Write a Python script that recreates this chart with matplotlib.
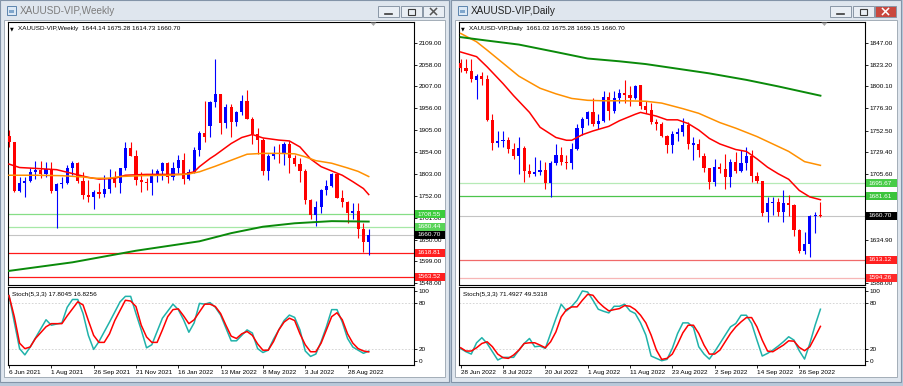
import numpy as np
import matplotlib
matplotlib.use("Agg")
import matplotlib.pyplot as plt
from matplotlib.patches import Rectangle, Polygon

W, H = 904, 386
FONT = ['Liberation Sans', 'DejaVu Sans']
plt.rcParams['font.family'] = FONT

# ---------------- weekly chart (left window) ----------------
w_open = [1892, 1877, 1764, 1781, 1787, 1808, 1813, 1802, 1814, 1763,
          1780, 1783, 1818, 1828, 1787, 1754, 1750, 1762, 1757, 1767,
          1793, 1783, 1818, 1864, 1846, 1789, 1784, 1783, 1798, 1810,
          1829, 1797, 1817, 1835, 1791, 1808, 1859, 1898, 1915, 1970,
          1989, 1921, 1958, 1925, 1947, 1974, 1932, 1896, 1883, 1811,
          1846, 1853, 1851, 1872, 1840, 1827, 1811, 1742, 1708, 1727,
          1766, 1775, 1802, 1747, 1738, 1712, 1717, 1675, 1644.14]
w_high = [1905, 1878, 1795, 1797, 1818, 1834, 1833, 1832, 1832, 1782,
          1795, 1823, 1834, 1832, 1808, 1788, 1765, 1782, 1801, 1814,
          1810, 1818, 1877, 1877, 1859, 1808, 1793, 1815, 1815, 1832,
          1831, 1830, 1848, 1853, 1814, 1865, 1902, 1974, 1974, 2070,
          1990, 1966, 1966, 1950, 1988, 1998, 1936, 1910, 1886, 1849,
          1869, 1874, 1877, 1879, 1847, 1840, 1814, 1745, 1739, 1767,
          1788, 1805, 1805, 1765, 1740, 1735, 1735, 1688, 1675.28]
w_low = [1866, 1761, 1762, 1750, 1785, 1792, 1794, 1795, 1759, 1678,
         1770, 1779, 1801, 1782, 1745, 1738, 1721, 1746, 1750, 1759,
         1772, 1759, 1812, 1844, 1778, 1762, 1766, 1753, 1785, 1790,
         1782, 1790, 1805, 1780, 1788, 1806, 1846, 1878, 1890, 1960,
         1895, 1910, 1890, 1915, 1941, 1930, 1872, 1850, 1800, 1789,
         1839, 1828, 1825, 1805, 1822, 1785, 1732, 1697, 1681, 1711,
         1754, 1773, 1746, 1727, 1688, 1699, 1654, 1620, 1614.73]
w_close = [1877, 1764, 1781, 1787, 1808, 1813, 1802, 1814, 1763, 1780,
           1783, 1818, 1828, 1787, 1754, 1750, 1762, 1757, 1767, 1793,
           1783, 1818, 1864, 1846, 1789, 1784, 1783, 1798, 1810, 1829,
           1797, 1817, 1835, 1791, 1808, 1859, 1898, 1889, 1970, 1989,
           1921, 1958, 1925, 1947, 1974, 1932, 1896, 1883, 1811, 1846,
           1853, 1851, 1872, 1840, 1827, 1811, 1742, 1708, 1727, 1766,
           1775, 1802, 1747, 1738, 1712, 1717, 1675, 1644, 1660.70]

w_ma_fast_idx = [0, 2, 5, 9, 12, 15, 17, 20, 22, 26, 29, 33, 35, 36, 38,
                 39, 42, 44, 46, 48, 51, 53, 55, 57, 59, 61, 63, 65, 67, 68]
w_ma_fast = [1826, 1818, 1816, 1813, 1804, 1795, 1791, 1793, 1800, 1802,
             1802, 1802, 1808, 1820, 1839, 1847, 1874, 1888, 1895, 1887,
             1882, 1880, 1866, 1838, 1820, 1810, 1800, 1785, 1769, 1755]
w_ma_mid_idx = [0, 5, 10, 14, 16, 19, 21, 25, 30, 34, 36, 39, 42, 45, 48,
                51, 54, 56, 58, 61, 64, 66, 68]
w_ma_mid = [1800, 1800, 1799, 1796, 1793, 1793, 1797, 1799, 1800, 1803,
            1808, 1821, 1835, 1849, 1851, 1851, 1850, 1843, 1834, 1828,
            1817, 1809, 1797]
w_ma_slow_idx = [0, 12, 24, 36, 42, 48, 54, 61, 68]
w_ma_slow = [1577, 1597, 1624, 1646, 1665, 1680, 1688, 1693, 1692]

w_stoch_main_idx = [0, 2, 3, 4, 7, 8, 10, 11, 12, 13,
                    14, 15, 16, 17, 19, 21, 22, 23, 24, 25,
                    26, 27, 29, 31, 32, 33, 34, 35, 36, 37,
                    38, 39, 40, 42, 43, 44, 45, 46, 47, 48,
                    49, 50, 52, 53, 54, 55, 56, 57, 58, 59,
                    60, 61, 62, 63, 64, 65, 66, 67, 68]
w_stoch_main = [89, 21, 13, 23, 58, 51, 54, 74, 84, 84,
                66, 38, 20, 30, 55, 81, 88, 88, 66, 45,
                22, 26, 60, 78, 71, 58, 42, 54, 79, 78,
                80, 74, 64, 31, 31, 38, 45, 41, 21, 16,
                19, 33, 57, 64, 61, 45, 18, 11, 14, 30,
                49, 71, 71, 55, 34, 23, 19, 15, 17.8]
w_stoch_sig_idx = [0, 1, 2, 3, 4, 5, 7, 8, 10, 11] + list(range(13, 69))
w_stoch_sig = [89, 62, 28, 21, 23, 34, 49, 53, 53, 63,
               81, 77, 57, 38, 29, 29, 40, 57, 70, 83,
               82, 75, 51, 36, 29, 29, 45, 62, 71, 72,
               63, 53, 58, 68, 78, 78, 75, 66, 51, 37,
               34, 40, 43, 38, 27, 19, 19, 30, 45, 55,
               60, 57, 40, 26, 17, 17, 28, 45, 62, 67,
               58, 40, 28, 21, 18, 16.8]

w_price_ticks = [2109, 2058, 2007, 1956, 1905, 1854, 1803, 1752, 1701, 1650, 1599, 1548]
w_dates = ['6 Jun 2021', '1 Aug 2021', '26 Sep 2021', '21 Nov 2021', '16 Jan 2022',
           '13 Mar 2022', '8 May 2022', '3 Jul 2022', '28 Aug 2022']
w_levels = [1708.55, 1680.44, 1618.81, 1563.52]
w_level_line = ['#86de86', '#a6e8a6', '#ff1a1a', '#ff1a1a']
w_level_box = ['#3ccc3c', '#58d458', '#ff1f1f', '#ff1f1f']

# ---------------- daily chart (right window) ----------------
d_open = [1825, 1820, 1817, 1807, 1811, 1808, 1764, 1739, 1741, 1742,
          1733, 1725, 1734, 1709, 1706, 1708, 1710, 1696, 1717, 1726,
          1719, 1717, 1733, 1755, 1765, 1772, 1759, 1763, 1789, 1773,
          1788, 1793, 1791, 1788, 1802, 1779, 1775, 1762, 1759, 1747,
          1737, 1749, 1751, 1758, 1737, 1738, 1725, 1712, 1697, 1713,
          1711, 1702, 1719, 1709, 1717, 1725, 1703, 1698, 1665, 1675,
          1676, 1665, 1675, 1672, 1645, 1623, 1630, 1660.5, 1661.02]
d_high = [1830, 1829, 1829, 1813, 1815, 1812, 1770, 1752, 1752, 1745,
          1739, 1745, 1736, 1716, 1724, 1721, 1719, 1720, 1738, 1735,
          1726, 1739, 1759, 1767, 1774, 1788, 1770, 1795, 1794, 1795,
          1797, 1807, 1800, 1802, 1802, 1784, 1782, 1765, 1762, 1748,
          1752, 1755, 1766, 1762, 1745, 1743, 1728, 1712, 1722, 1718,
          1727, 1722, 1729, 1731, 1735, 1732, 1708, 1698, 1681, 1681,
          1680, 1688, 1683, 1673, 1646, 1643, 1662, 1665, 1675.28]
d_low = [1816, 1814, 1805, 1786, 1802, 1763, 1732, 1735, 1735, 1728,
         1722, 1706, 1697, 1702, 1704, 1705, 1690, 1681, 1715, 1715,
         1711, 1711, 1731, 1748, 1758, 1757, 1754, 1762, 1764, 1771,
         1782, 1782, 1779, 1786, 1776, 1771, 1759, 1753, 1746, 1728,
         1728, 1741, 1747, 1733, 1721, 1724, 1708, 1690, 1693, 1707,
         1690, 1692, 1707, 1708, 1710, 1697, 1696, 1660, 1654, 1662,
         1661, 1654, 1660, 1639, 1621, 1620, 1616, 1642, 1659.15]
d_close = [1820, 1817, 1808, 1811, 1808, 1764, 1739, 1741, 1742, 1733,
           1725, 1734, 1709, 1706, 1708, 1710, 1696, 1717, 1726, 1719,
           1717, 1733, 1755, 1765, 1772, 1759, 1763, 1789, 1773, 1788,
           1793, 1791, 1788, 1800, 1779, 1775, 1762, 1759, 1747, 1737,
           1749, 1751, 1758, 1738, 1739, 1731, 1712, 1697, 1713, 1711,
           1702, 1719, 1709, 1717, 1725, 1703, 1698, 1664, 1675, 1676,
           1665, 1675, 1672, 1645, 1623, 1630, 1661, 1661.5, 1660.70]

d_ma_fast_idx = [0, 3, 5, 8, 10, 13, 15, 18, 20, 21, 23, 25, 28, 30, 33, 34,
                 37, 39, 41, 43, 45, 47, 49, 52, 54, 56, 58, 60, 62, 64, 66, 68]
d_ma_fast = [1837, 1832, 1821, 1803, 1790, 1772, 1756, 1745, 1742, 1742, 1748,
             1752, 1757, 1763, 1770, 1772, 1768, 1764, 1764, 1760, 1753, 1744,
             1738, 1732, 1730, 1722, 1713, 1706, 1700, 1688, 1681, 1678]
d_ma_mid_idx = [0, 3, 5, 8, 11, 15, 18, 21, 24, 27, 31, 35, 38, 42, 45, 49,
                52, 56, 59, 62, 65, 68]
d_ma_mid = [1857, 1848, 1839, 1825, 1811, 1798, 1792, 1787, 1785, 1784.5,
            1784.5, 1784, 1782, 1776, 1771, 1761, 1755, 1746, 1738, 1730,
            1719, 1715]
d_ma_slow_idx = [0, 4, 11, 18, 24, 30, 35, 41, 47, 54, 60, 68]
d_ma_slow = [1853, 1850, 1845, 1837, 1830, 1827, 1824, 1819, 1814, 1807, 1800, 1790]

d_stoch_main = [21, 17, 14, 28.5, 35, 27.6, 17, 6.4, 9.8, 9.8,
                9.8, 19, 27.6, 34, 23.4, 24.2, 21.3, 40.4, 59.6, 77.9,
                69.4, 75.3, 83, 94.9, 93.6, 83, 71.5, 68.9, 66.8, 75.3,
                75.3, 77.9, 69.4, 66, 54, 38.3, 11.5, 8.5, 5.5, 7.2,
                21.3, 40.4, 54, 54, 48, 23.4, 14, 7.6, 17, 27.6,
                38.3, 48.9, 53.2, 63.8, 63.8, 53.2, 31.9, 11.5, 14.9, 19.1,
                24.2, 29.8, 36.2, 31.9, 18.3, 7.6, 27.6, 51, 71.49]
d_stoch_sig = [22.1, 17.9, 17.9, 22.1, 27.6, 29.8, 23.4, 14, 9.4, 8.5,
               12.8, 19.1, 27.6, 28.5, 28.5, 25.5, 22.1, 29.8, 42.5, 61.7,
               71, 74.5, 74.5, 83, 90.6, 89.4, 80.8, 74.5, 69.4, 71,
               72.3, 76.2, 75.3, 71, 63.8, 54, 38.3, 19.1, 7.2, 8.5,
               14, 26.8, 41.3, 51, 51, 40.4, 25.5, 14, 14, 19.1,
               29.8, 40.4, 48.9, 55.3, 60.8, 60.8, 48.9, 31.9, 17.9, 17,
               21.3, 25.5, 31, 30.6, 22.6, 18.3, 23.4, 36.2, 49.53]

d_price_ticks = [1847.00, 1823.20, 1800.10, 1776.30, 1752.50, 1729.40,
                 1705.60, 1681.80, 1658.00, 1634.90, 1611.10, 1588.00]
d_dates = ['28 Jun 2022', '8 Jul 2022', '20 Jul 2022', '1 Aug 2022', '11 Aug 2022',
           '23 Aug 2022', '2 Sep 2022', '14 Sep 2022', '26 Sep 2022']
d_levels = [1695.67, 1681.61, 1613.12, 1594.26]
d_level_line = ['#b6eab6', '#4cc44c', '#f06a6a', '#f7b6b6']
d_level_box = ['#48cc48', '#3cc43c', '#ff2020', '#ff2a2a']

last_price = 1660.70
FS = 4.6


fig = plt.figure(figsize=(W / 100, H / 100), dpi=100, facecolor='#b9c9da')
bg = fig.add_axes([0, 0, 1, 1], zorder=0)
bg.set_xlim(0, W)
bg.set_ylim(H, 0)
bg.axis('off')
top = fig.add_axes([0, 0, 1, 1], zorder=20)
top.set_xlim(0, W)
top.set_ylim(H, 0)
top.axis('off')
top.patch.set_alpha(0)


def px_axes(x0, y0, x1, y1):
    return fig.add_axes([x0 / W, 1 - y1 / H, (x1 - x0) / W, (y1 - y0) / H], zorder=5)


def draw_window(x0, x1, title, title_color, close_fc):
    bg.add_patch(Rectangle((x0, 0), x1 - x0, 382, fc='#dfe6ee', ec='#8394a8', lw=0.8))
    bg.add_patch(Rectangle((x0 + 4, 20), x1 - x0 - 8, 357, fc='white', ec='#a3adb8', lw=0.7))
    # small window icon
    bg.add_patch(Rectangle((x0 + 7, 6), 9, 9, fc='#dbe8f5', ec='#5d84ad', lw=0.7))
    bg.add_patch(Rectangle((x0 + 9, 10), 5, 3, fc='#7fa6cc', ec='none'))
    bg.text(x0 + 20, 11, title, fontsize=7.2, color=title_color, va='center', ha='left')
    # caption buttons
    bx = [x1 - 71, x1 - 48, x1 - 26]
    for k, b in enumerate(bx):
        fc = close_fc if k == 2 else '#e9eef4'
        bg.add_patch(Rectangle((b, 6), 21, 11, fc=fc, ec='#8a97a6', lw=0.7))
    bg.plot([bx[0] + 7, bx[0] + 14], [13.5, 13.5], color='#3a3a3a', lw=1.2)
    bg.add_patch(Rectangle((bx[1] + 7, 8.5), 7, 6, fc='none', ec='#3a3a3a', lw=0.8))
    xc = bx[2] + 10.5
    xcol = 'white' if close_fc != '#e9eef4' else '#555555'
    bg.plot([xc - 3, xc + 3], [8.5, 14.5], color=xcol, lw=1.1)
    bg.plot([xc - 3, xc + 3], [14.5, 8.5], color=xcol, lw=1.1)


def draw_candles(ax, o, h, l, c, min_h):
    o, h, l, c = map(np.asarray, (o, h, l, c))
    x = np.arange(len(o))
    cols = np.where(c >= o, '#0000ff', '#ff0000')
    ax.vlines(x, l, h, colors=cols, lw=0.8, zorder=3)
    bottom = np.minimum(o, c)
    height = np.maximum(np.abs(c - o), min_h)
    ax.bar(x, height, width=0.6, bottom=bottom, color=cols, linewidth=0, zorder=4)


def style_axis(ax):
    for s in ax.spines.values():
        s.set_color('black')
        s.set_linewidth(0.8)
    ax.set_facecolor('white')
    ax.yaxis.tick_right()
    ax.tick_params(axis='y', direction='out', length=2, width=0.6, pad=1.2,
                   labelsize=FS, colors='black')


def price_box(ax, x0, x1, level, text, fc):
    y = H - ax.transData.transform((0, level))[1]
    top.add_patch(Rectangle((x0, y - 4), x1 - x0, 8, fc=fc, ec='none'))
    top.text(x0 + 2.5, y, text, fontsize=FS, color='white', va='center', ha='left')


def draw_chart(left, right, o, h, l, c, ylim, x_first, ticks, ma, levels,
               level_line, level_box, stoch, dates, header, stoch_header, box_x1):
    xlim = ((left - x_first) / 5.29, (right - x_first) / 5.29)
    ax = px_axes(left, 22, right, 285)
    style_axis(ax)
    ax.set_xlim(*xlim)
    ax.set_ylim(*ylim)
    ax.set_xticks([])
    ax.set_yticks(ticks)
    ax.set_yticklabels(['%.2f' % t for t in ticks])
    fig.canvas.draw()

    for lv, lc in zip(levels, level_line):
        ax.axhline(lv, color=lc, lw=0.9, zorder=2)
    ax.axhline(last_price, color='#c4c4c4', lw=0.8, zorder=2)

    for (idx, vals), col, lw in zip(ma, ['#ff0000', '#ff9000', '#0a8a0a'], [1.1, 1.1, 1.4]):
        ax.plot(idx, vals, color=col, lw=lw, zorder=5, solid_joinstyle='round')

    draw_candles(ax, o, h, l, c, (ylim[1] - ylim[0]) / 263 * 0.8)

    ax.text(0.006, 0.975, '\u25bc', transform=ax.transAxes, fontsize=3.5,
            va='center', ha='left', family=['DejaVu Sans'])
    ax.text(0.025, 0.975, header, transform=ax.transAxes, fontsize=FS,
            va='center', ha='left')
    tx = left + 0.9 * (right - left)
    top.add_patch(Polygon([[tx - 3, 22.5], [tx + 3, 22.5], [tx, 26]], closed=True,
                          fc='#a8a8a8', ec='none'))

    for lv, bc in zip(levels + [last_price], level_box + ['#000000']):
        price_box(ax, right + 1, box_x1, lv, '%.2f' % lv, bc)

    sx = px_axes(left, 287, right, 365)
    style_axis(sx)
    sx.set_xlim(*xlim)
    sx.set_ylim(0, 100)
    sx.set_yticks([5, 20, 80, 95])
    sx.set_yticklabels(['0', '20', '80', '100'])
    sx.axhline(20, color='#cfcfcf', lw=0.6, ls=(0, (2, 2)), zorder=1)
    sx.axhline(80, color='#cfcfcf', lw=0.6, ls=(0, (2, 2)), zorder=1)
    (mi, mv), (si, sv) = stoch
    sx.plot(mi, mv, color='#20b2aa', lw=1.1, zorder=3)
    sx.plot(si, sv, color='#ff0000', lw=1.1, zorder=4)
    sx.text(0.01, 0.91, stoch_header, transform=sx.transAxes, fontsize=FS,
            va='center', ha='left')
    sx.set_xticks(np.arange(len(dates)) * 8)
    sx.set_xticklabels(dates, ha='left')
    sx.tick_params(axis='x', direction='out', length=2, width=0.6, pad=1.5,
                   labelsize=FS)
    return ax


draw_window(0, 449, 'XAUUSD-VIP,Weekly', '#7c7c7c', '#e9eef4')
draw_window(451, 901, 'XAUUSD-VIP,Daily', '#222222', '#c9483e')

draw_chart(8, 414, w_open, w_high, w_low, w_close, (1544.1, 2157.3), 9,
           w_price_ticks,
           [(w_ma_fast_idx, w_ma_fast), (w_ma_mid_idx, w_ma_mid), (w_ma_slow_idx, w_ma_slow)],
           w_levels, w_level_line, w_level_box,
           ((w_stoch_main_idx, w_stoch_main), (w_stoch_sig_idx, w_stoch_sig)),
           w_dates, 'XAUUSD-VIP,Weekly  1644.14 1675.28 1614.73 1660.70',
           'Stoch(5,3,3) 17.8045 16.8256', 445)

n_d = len(d_open)
draw_chart(459, 865, d_open, d_high, d_low, d_close, (1586.2, 1869.3), 460.7,
           d_price_ticks,
           [(d_ma_fast_idx, d_ma_fast), (d_ma_mid_idx, d_ma_mid), (d_ma_slow_idx, d_ma_slow)],
           d_levels, d_level_line, d_level_box,
           ((np.arange(n_d), d_stoch_main), (np.arange(n_d), d_stoch_sig)),
           d_dates, 'XAUUSD-VIP,Daily  1661.02 1675.28 1659.15 1660.70',
           'Stoch(5,3,3) 71.4927 49.5318', 897)

fig.savefig('out.png', dpi=100, facecolor=fig.get_facecolor())
